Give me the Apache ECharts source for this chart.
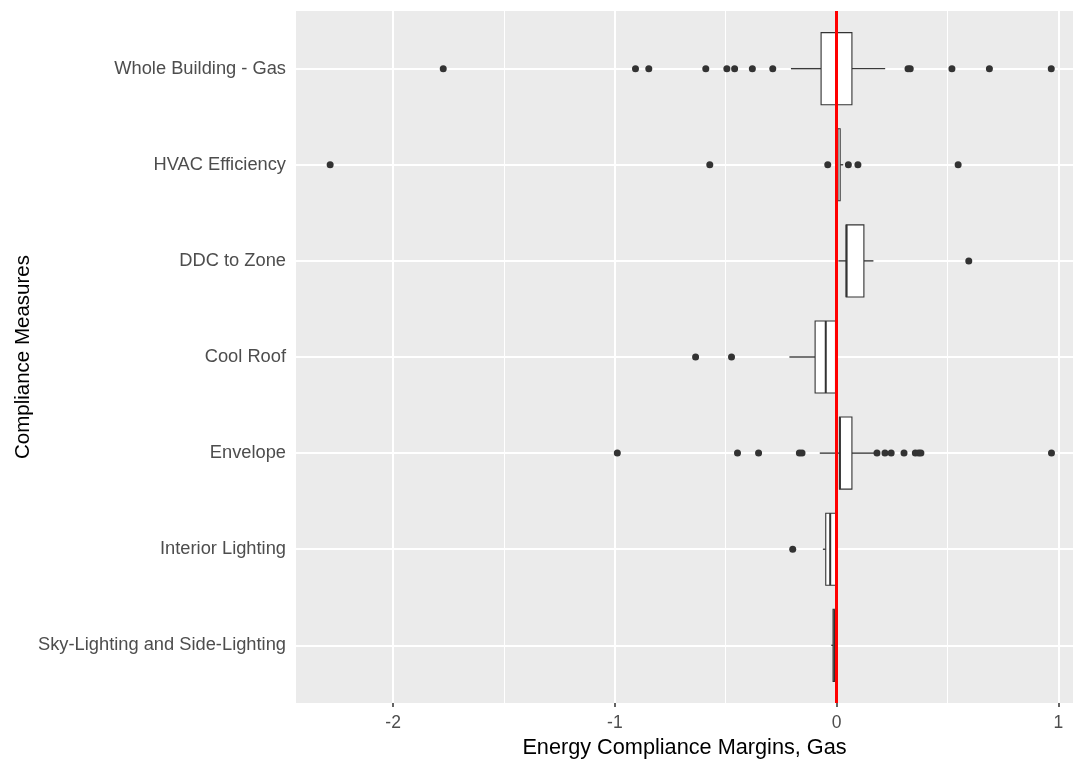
<!DOCTYPE html>
<html>
<head>
<meta charset="utf-8">
<script src="https://cdn.jsdelivr.net/npm/echarts@6/dist/echarts.min.js"></script>
<style>html,body{margin:0;padding:0;background:#fff}#c{width:1073px;height:759px}</style>
</head>
<body>
<div id="c"></div>
<script>
// Categories, top to bottom
const categories = ['Whole Building - Gas','HVAC Efficiency','DDC to Zone','Cool Roof','Envelope','Interior Lighting','Sky-Lighting and Side-Lighting'];
// Box stats per category: [lowerWhisker, q1, median, q3, upperWhisker]
const boxStats = [
  [-0.206, -0.070, -0.002, 0.069, 0.219],
  [-0.007, 0.000, 0.004, 0.016, 0.030],
  [0.008, 0.043, 0.045, 0.123, 0.166],
  [-0.213, -0.097, -0.049, -0.005, -0.005],
  [-0.076, 0.013, 0.015, 0.069, 0.170],
  [-0.062, -0.049, -0.029, -0.004, -0.004],
  [-0.024, -0.016, -0.010, -0.004, -0.004]
];
// Outliers per category
const outliers = [
  [-1.774, -0.907, -0.847, -0.590, -0.495, -0.460, -0.380, -0.288, 0.322, 0.332, 0.520, 0.689, 0.968],
  [-2.284, -0.572, -0.040, 0.053, 0.096, 0.548],
  [0.596],
  [-0.636, -0.474],
  [-0.989, -0.447, -0.352, -0.168, -0.156, 0.182, 0.218, 0.246, 0.304, 0.355, 0.370, 0.380, 0.969],
  [-0.198],
  []
];
const xTicks = [-2, -1, 0, 1];
const xMinor = [-1.5, -0.5, 0.5];
const refLine = 0;

const catIdx = categories.map((c, i) => i + 1);
const boxData = boxStats.map((s, i) => [i + 1].concat(s));
const outlierData = [];
outliers.forEach((arr, i) => arr.forEach(v => outlierData.push([v, i + 1])));

const font = "'Liberation Sans', Arial, sans-serif";
const chart = echarts.init(document.getElementById('c'), null, {renderer: 'canvas'});
chart.setOption({
  animation: false,
  backgroundColor: '#fff',
  grid: {left: 296, right: 0, top: 11, bottom: 56, backgroundColor: '#ebebeb', show: true, borderWidth: 0,
    containLabel: false, outerBoundsMode: 'none'},
  xAxis: {
    type: 'value', min: -2.438, max: 1.066,
    axisLine: {show: false},
    splitLine: {show: false},
    axisTick: {show: true, length: 4, customValues: xTicks, lineStyle: {color: '#333', width: 1.5}},
    axisLabel: {customValues: xTicks, color: '#4d4d4d', fontSize: 17.5, fontFamily: font, margin: 11, formatter: v => String(v)},
    name: 'Energy Compliance Margins, Gas', nameLocation: 'middle', nameGap: 34, nameMoveOverlap: false,
    nameTextStyle: {color: '#000', fontSize: 21.7, fontFamily: font}
  },
  yAxis: {
    type: 'value', min: 0.4, max: 7.6, inverse: true,
    axisLine: {show: false},
    splitLine: {show: false},
    axisTick: {show: true, length: 4, customValues: catIdx, lineStyle: {color: '#333', width: 1.5}},
    axisLabel: {customValues: catIdx, color: '#4d4d4d', fontSize: 18.3, fontFamily: font, margin: 10,
      formatter: v => categories[Math.round(v) - 1] || ''},
    name: 'Compliance Measures', nameLocation: 'middle', nameGap: 262, nameMoveOverlap: false,
    nameTextStyle: {color: '#000', fontSize: 20.5, fontFamily: font}
  },
  series: [
    {
      type: 'scatter', data: [], z: 1, silent: true,
      markLine: {
        silent: true, symbol: 'none', label: {show: false}, animation: false, z: 1,
        emphasis: {disabled: true},
        data: [].concat(
          xMinor.map(v => ({xAxis: v, lineStyle: {color: '#fff', width: 1, type: 'solid'}})),
          xTicks.map(v => ({xAxis: v, lineStyle: {color: '#fff', width: 2, type: 'solid'}})),
          catIdx.map(v => ({yAxis: v, lineStyle: {color: '#fff', width: 2, type: 'solid'}}))
        )
      }
    },
    {
      type: 'custom', z: 3, silent: true,
      data: boxData,
      encode: {y: 0, x: [1, 2, 3, 4, 5]},
      renderItem: function (params, api) {
        const y = api.value(0);
        const lo = api.coord([api.value(1), y]);
        const q1 = api.coord([api.value(2), y]);
        const md = api.coord([api.value(3), y]);
        const q3 = api.coord([api.value(4), y]);
        const hi = api.coord([api.value(5), y]);
        const h = api.size([0, 1])[1] * 0.75;
        const st = {stroke: '#3a3a3a', lineWidth: 1.4, fill: null};
        return {
          type: 'group',
          children: [
            {type: 'line', shape: {x1: lo[0], y1: lo[1], x2: q1[0], y2: q1[1]}, style: st},
            {type: 'line', shape: {x1: q3[0], y1: q3[1], x2: hi[0], y2: hi[1]}, style: st},
            {type: 'rect', shape: {x: q1[0], y: q1[1] - h / 2, width: q3[0] - q1[0], height: h},
              style: {fill: '#fff', stroke: '#333', lineWidth: 1.1}},
            {type: 'line', shape: {x1: md[0], y1: md[1] - h / 2, x2: md[0], y2: md[1] + h / 2},
              style: {stroke: '#333', lineWidth: 2}}
          ]
        };
      }
    },
    {
      type: 'scatter', z: 4, silent: true,
      data: outlierData, symbol: 'circle', symbolSize: 7,
      itemStyle: {color: '#333', opacity: 1}
    },
    {
      type: 'scatter', data: [], z: 5, silent: true,
      markLine: {
        silent: true, symbol: 'none', label: {show: false}, animation: false, z: 10,
        emphasis: {disabled: true},
        lineStyle: {color: '#ff0000', width: 3, type: 'solid', opacity: 1},
        data: [{xAxis: refLine, lineStyle: {color: '#ff0000', width: 3, type: 'solid', opacity: 1}}]
      }
    }
  ]
});
</script>
</body>
</html>
